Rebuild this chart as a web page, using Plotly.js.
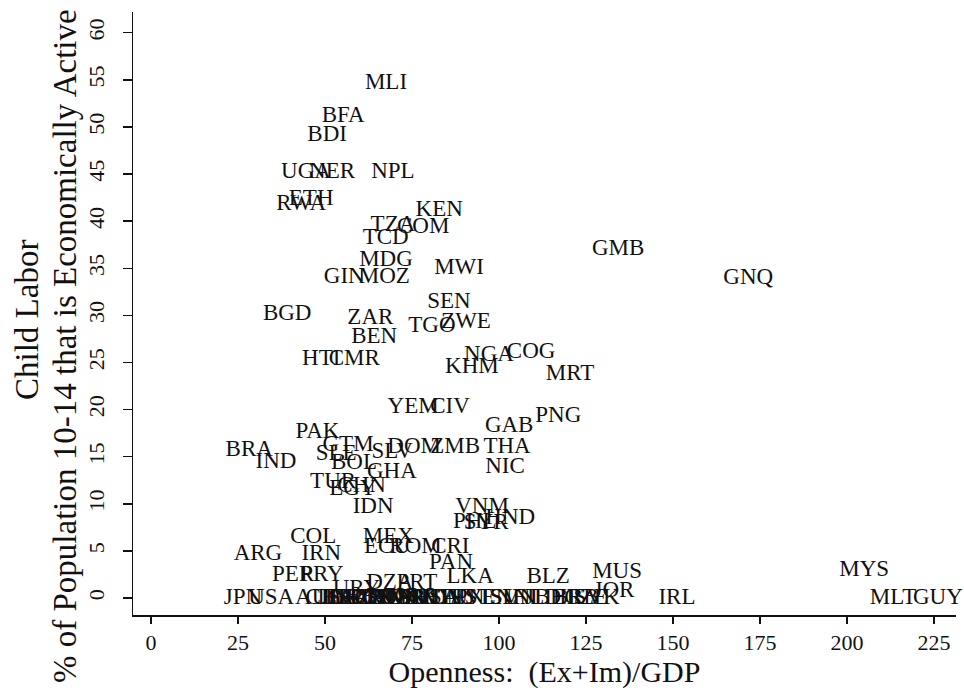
<!DOCTYPE html>
<html>
<head>
<meta charset="utf-8">
<script src="https://cdn.plot.ly/plotly-3.0.1.min.js"></script>
<style>html,body{margin:0;padding:0;background:#fff;}#chart{width:964px;height:699px;}</style>
</head>
<body>
<div id="chart"></div>
<script>
// Country codes (labels drawn at each point)
const countries = [
  "MLI","BFA","BDI","UGA","NER","NPL","ETH","RWA","KEN","TZA","COM","TCD","MDG","GIN","MOZ","MWI","GMB","GNQ",
  "SEN","BGD","ZAR","ZWE","TGO","BEN","HTI","CMR","NGA","COG","KHM","MRT","YEM","CIV","PNG","GAB",
  "PAK","BRA","IND","GTM","SLE","SLV","BOL","DOM","ZMB","THA","NIC","GHA","TUR","EGY","CHN","IDN",
  "VNM","HND","PHL","SYR","COL","MEX","ARG","IRN","ECU","ROM","CRI","PAN","PER","PRY","URY","DZA","PRT",
  "LKA","BLZ","MUS","MYS","JOR","JPN","USA","IRL","MLT","GUY",
  "AUS","CHL","ITA","ESP","FRA","GRC","KOR","NZL","GBR","DEU","CAN","FIN","POL","SWE","NOR","ISR",
  "DNK","AUT","KWT","CHE","HUN","CYP","SAU","TUN","EST","VEN","ISL","SVN","FJI","NLD","BHR","BRB","CZE","SVK"
];
// Openness: (Ex+Im)/GDP
const openness = [
  67.5,55.2,50.6,44.5,52.0,69.5,46.0,43.1,82.8,69.5,78.2,67.4,67.5,55.5,67.0,88.5,134.2,171.6,
  85.6,39.1,63.0,90.5,80.7,64.1,48.9,58.4,97.1,109.2,92.2,120.4,75.3,85.9,117.0,102.9,
  47.8,28.2,35.9,56.6,53.2,69.3,58.3,75.6,87.4,102.3,101.7,69.2,52.3,58.0,60.5,63.8,
  95.1,103.2,93.0,96.3,46.6,68.2,30.7,48.9,67.8,76.0,86.0,86.2,40.8,49.1,59.0,68.6,76.4,
  91.7,114.1,133.9,204.9,133.0,26.4,34.5,151.1,213.2,226.1,
  48.0,51.0,53.0,55.0,56.5,58.0,59.5,61.0,62.5,64.0,65.5,67.0,68.5,70.0,72.0,73.5,
  75.0,77.0,79.0,80.5,82.5,84.5,86.5,89.0,92.0,97.0,100.0,104.0,108.0,111.0,117.0,122.0,125.0,128.0
];
// Child labor: % of population 10-14 economically active
const childLabor = [
  54.6,51.1,49.1,45.2,45.2,45.2,42.3,41.8,41.2,39.6,39.4,38.2,35.9,34.0,34.0,35.0,37.0,33.9,
  31.4,30.1,29.7,29.3,28.8,27.7,25.3,25.3,25.8,26.1,24.5,23.8,20.2,20.2,19.3,18.2,
  17.6,15.7,14.4,16.2,15.3,15.5,14.3,16.0,16.0,16.0,13.9,13.4,12.3,11.5,11.9,9.6,
  9.6,8.5,8.0,7.9,6.5,6.5,4.7,4.7,5.4,5.4,5.4,3.7,2.4,2.4,0.9,1.6,1.6,
  2.2,2.2,2.7,3.0,0.7,0,0,0,0,0,
  0,0,0,0,0,0,0,0,0,0,0,0,0,0,0,0,
  0,0,0,0,0,0,0,0,0,0,0,0,0,0,0,0,0,0
];
const xTicks = [0,25,50,75,100,125,150,175,200,225];
const yTicks = [0,5,10,15,20,25,30,35,40,45,50,55,60];
const xTitle = "Openness:\u00a0 (Ex+Im)/GDP";
const yTitleLine1 = "Child Labor";
const yTitleLine2 = "% of Population 10-14 that is Economically Active";

const serif = "Liberation Serif, Times New Roman, serif";

const trace = {
  type: "scatter",
  mode: "text",
  x: openness,
  y: childLabor,
  text: countries,
  textposition: "middle center",
  textfont: {family: serif, size: 23, color: "#111"},
  hoverinfo: "x+y+text",
  cliponaxis: false,
  showlegend: false
};

const layout = {
  width: 964,
  height: 699,
  margin: {l: 133, r: 8, t: 12, b: 84},
  paper_bgcolor: "#fff",
  plot_bgcolor: "#fff",
  font: {family: serif, color: "#111"},
  showlegend: false,
  xaxis: {
    range: [-5.2, 231.3],
    tickmode: "array",
    tickvals: xTicks,
    ticktext: xTicks.map(String),
    ticks: "outside",
    ticklen: 7,
    tickwidth: 1.5,
    tickcolor: "#111",
    showline: true,
    linecolor: "#111",
    linewidth: 1.5,
    showgrid: false,
    zeroline: false,
    tickfont: {family: serif, size: 22, color: "#111"},
    title: {text: xTitle, font: {family: serif, size: 30, color: "#111"}, standoff: 6},
    automargin: false
  },
  yaxis: {
    range: [-1.8, 62.2],
    tickmode: "array",
    tickvals: yTicks,
    ticktext: yTicks.map(String),
    ticks: "outside",
    ticklen: 9,
    tickwidth: 1.5,
    tickcolor: "#111",
    tickangle: -90,
    ticklabelstandoff: 10,
    showline: true,
    linecolor: "#111",
    linewidth: 1.5,
    showgrid: false,
    zeroline: false,
    tickfont: {family: serif, size: 22, color: "#111"},
    automargin: false
  },
  annotations: [
    {text: yTitleLine1, xref: "paper", yref: "paper", x: (27 - 133) / 823, y: 1 - (320 - 12) / 603,
     xanchor: "center", yanchor: "middle", textangle: -90, showarrow: false,
     font: {family: serif, size: 33, color: "#111"}},
    {text: yTitleLine2, xref: "paper", yref: "paper", x: (65 - 133) / 823, y: 1 - (346 - 12) / 603,
     xanchor: "center", yanchor: "middle", textangle: -90, showarrow: false,
     font: {family: serif, size: 33, color: "#111"}}
  ]
};

Plotly.newPlot("chart", [trace], layout, {staticPlot: true, displayModeBar: false});
</script>
</body>
</html>
